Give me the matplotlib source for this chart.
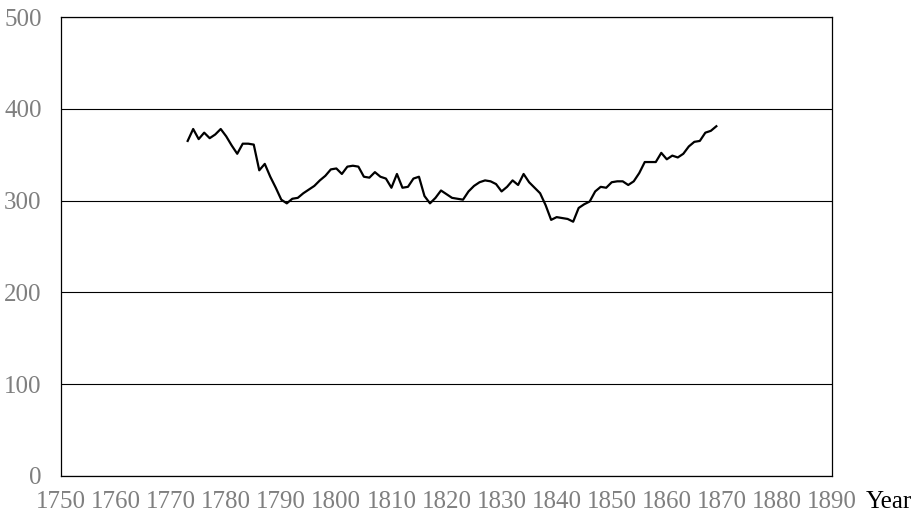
import matplotlib
matplotlib.use('Agg')
import matplotlib.pyplot as plt

# yearly series
years = list(range(1773, 1870))
values = [365, 378, 367, 374, 368, 372, 378, 370, 360, 351,
          362, 362, 361, 333, 340, 326, 314, 301, 297, 302,
          303, 308, 312, 316, 322, 327, 334, 335, 329, 337,
          338, 337, 326, 325, 331, 326, 324, 314, 329, 314,
          315, 324, 326, 305, 297, 303, 311, 307, 303, 302,
          301, 310, 316, 320, 322, 321, 318, 310, 315, 322,
          317, 329, 320, 314, 308, 295, 279, 282, 281, 280,
          277, 292, 296, 299, 310, 315, 314, 320, 321, 321,
          317, 321, 330, 342, 342, 342, 352, 345, 349, 347,
          351, 359, 364, 365, 374, 376, 381]

x_ticks = list(range(1750, 1891, 10))
y_ticks = [0, 100, 200, 300, 400, 500]

plt.rcParams['font.family'] = ['Liberation Serif', 'DejaVu Serif']

fig = plt.figure(figsize=(9.19, 5.15), dpi=100)
ax = fig.add_axes([61 / 919, 39 / 515, 771 / 919, 459 / 515])

ax.plot(years, values, color='black', linewidth=1.6, zorder=3)

ax.set_xlim(1750, 1890)
ax.set_ylim(0, 500)
ax.set_xticks(x_ticks)
ax.set_yticks(y_ticks)
ax.set_xticklabels([str(t) for t in x_ticks])
ax.set_yticklabels([str(t) for t in y_ticks])
ax.tick_params(axis='both', length=0, labelsize=18, labelcolor='#7f7f7f')
ax.tick_params(axis='x', pad=11)
ax.tick_params(axis='y', pad=14)

ax.grid(axis='y', color='black', linewidth=0.8)
ax.set_axisbelow(True)
for side in ['left', 'right', 'top', 'bottom']:
    ax.spines[side].set_color('black')
    ax.spines[side].set_linewidth(0.9)

fig.text(866 / 919, 1 - 502 / 515, 'Year', fontsize=18, color='black',
         ha='left', va='center')

fig.savefig('out.png', dpi=100)
